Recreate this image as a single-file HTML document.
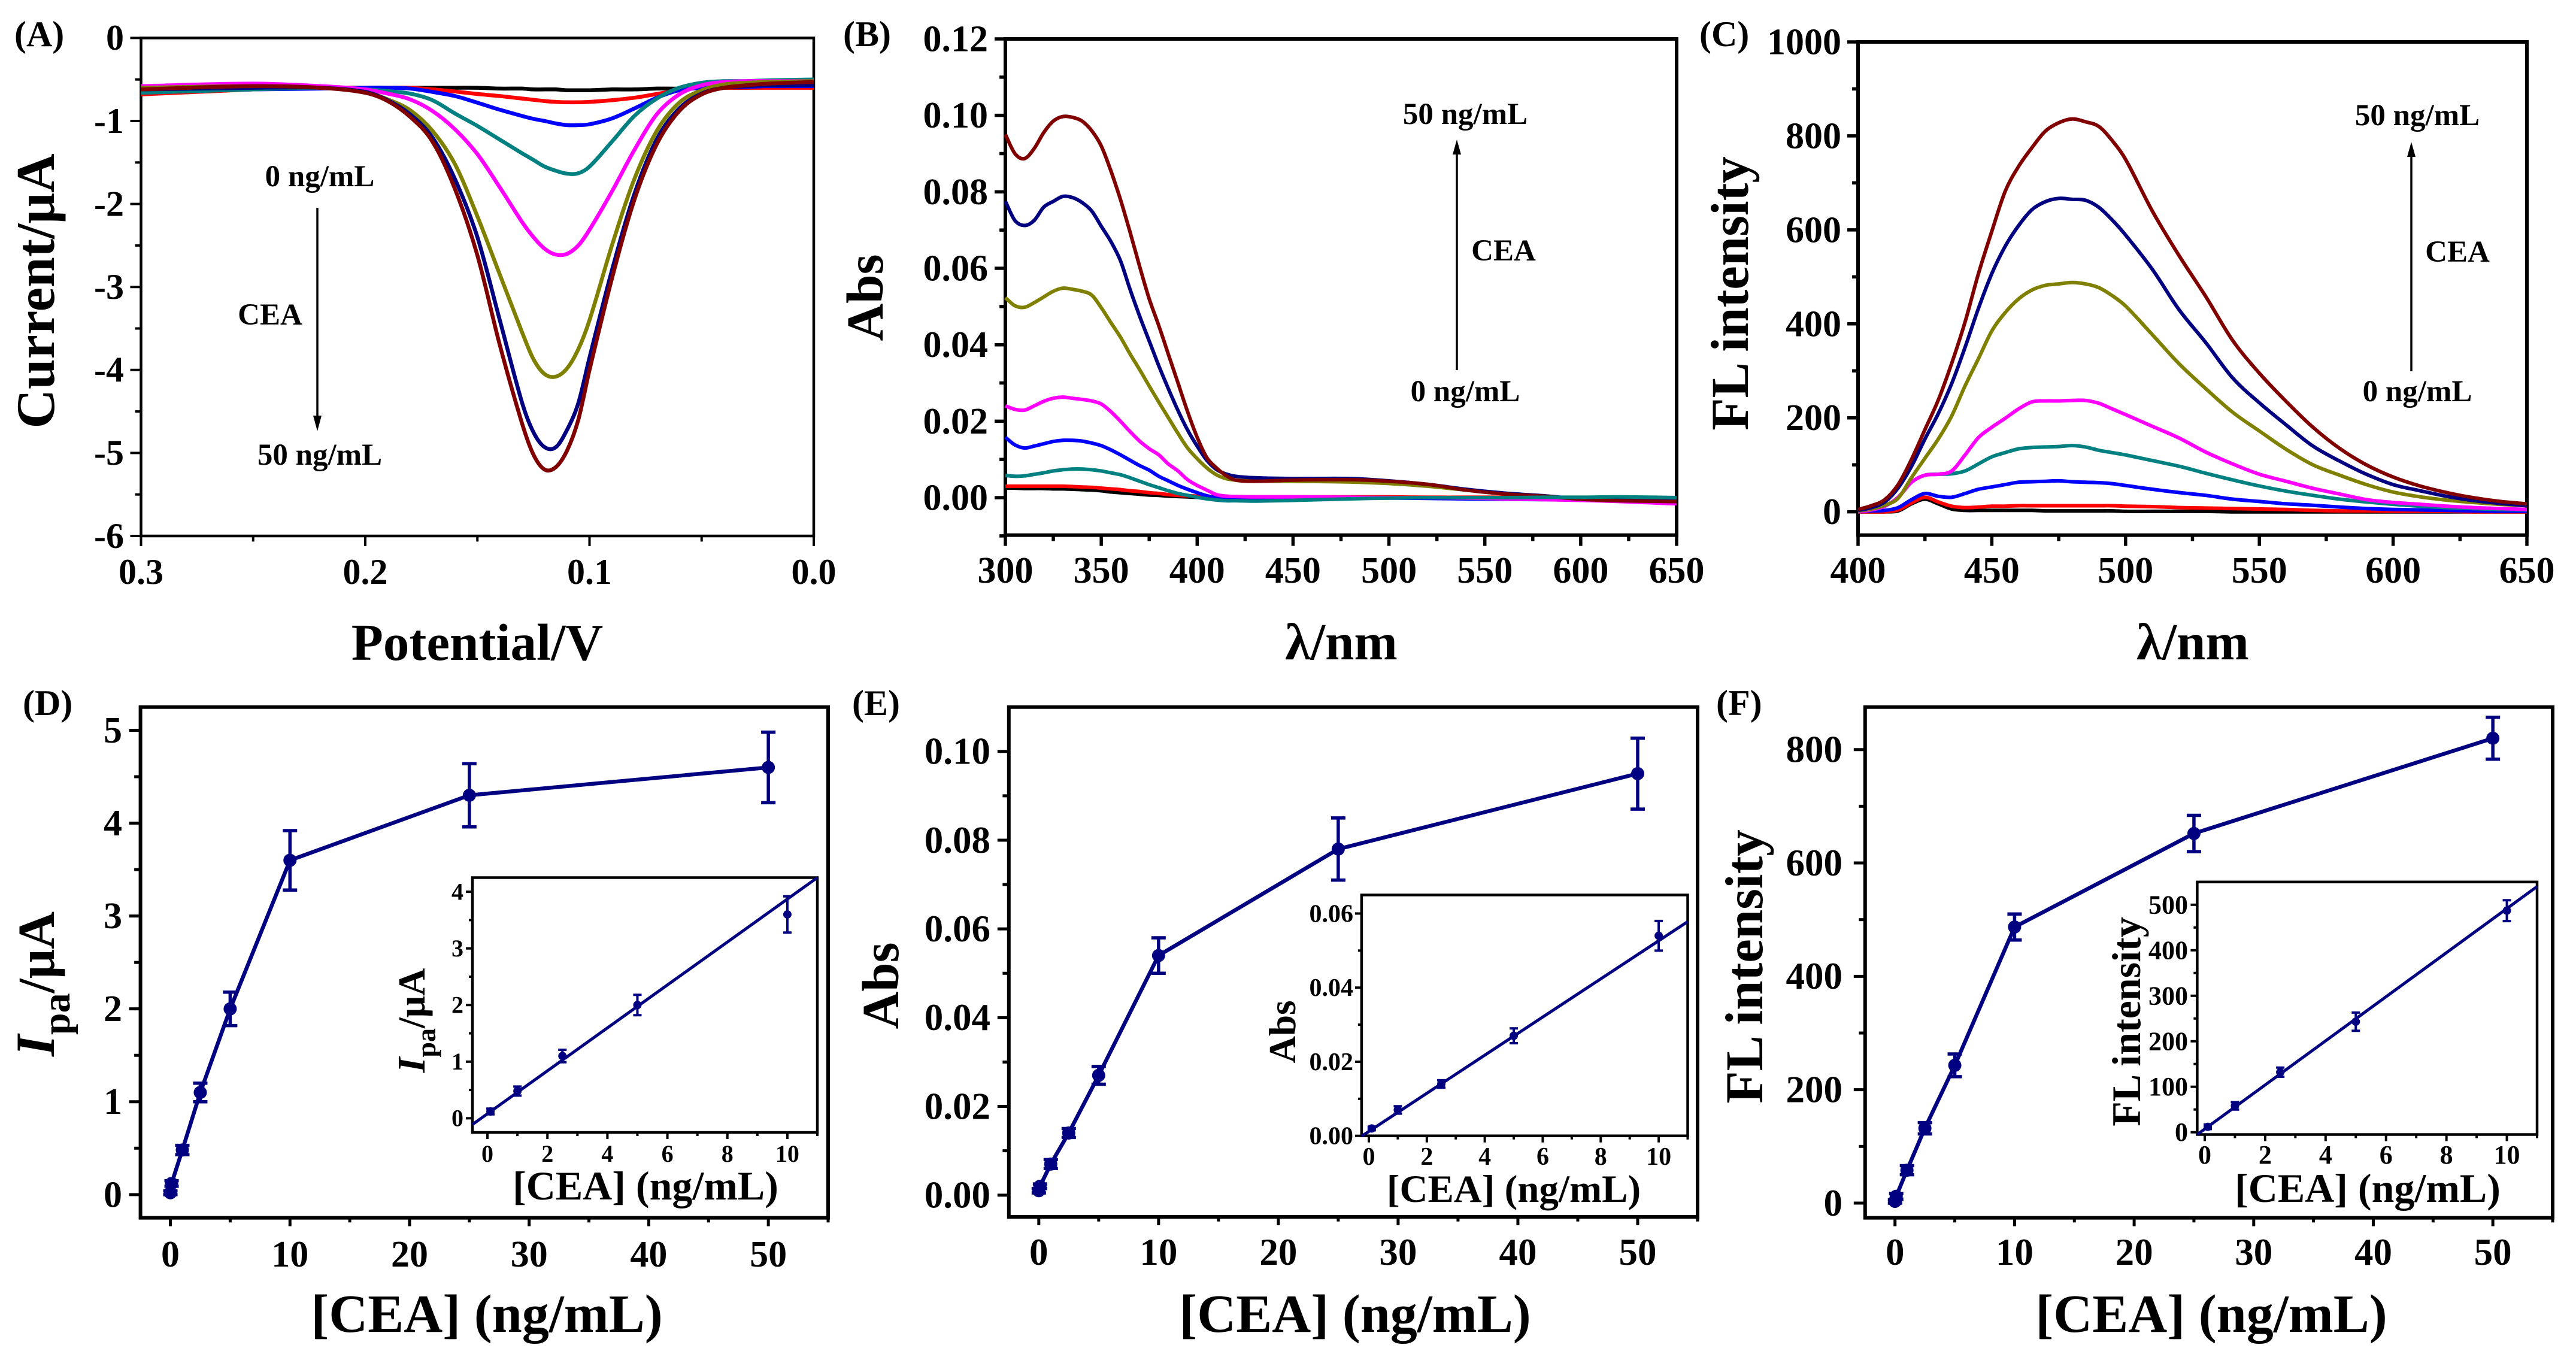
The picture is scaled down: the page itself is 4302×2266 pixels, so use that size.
<!DOCTYPE html>
<html lang="en">
<head>
<meta charset="utf-8">
<title>CEA sensing response panels</title>
<style>
html,body{margin:0;padding:0;background:#fff;}
svg{display:block;}
text{font-family:"Liberation Serif",serif;font-weight:bold;fill:#000;}
</style>
</head>
<body>
<svg id="figure" xmlns="http://www.w3.org/2000/svg" width="4302" height="2266" viewBox="0 0 4302 2266">
<rect x="0" y="0" width="4302" height="2266" fill="#fff"/>
<g id="marks"></g>

<g font-size="60">
<text x="24" y="77">(A)</text>
<text x="1408" y="77">(B)</text>
<text x="2838" y="77">(C)</text>
<text x="38" y="1194">(D)</text>
<text x="1423" y="1194">(E)</text>
<text x="2866" y="1194">(F)</text>
</g>

<g font-size="89" text-anchor="middle">
<text font-size="87" x="797" y="1102">Potential/V</text>
<text font-size="91" transform="translate(90 486) rotate(-90)">Current/μA</text>
<text font-size="87" x="2240" y="1101">λ/nm</text>
<text font-size="87" transform="translate(1474 497) rotate(-90)">Abs</text>
<text font-size="87" x="3662" y="1101">λ/nm</text>
<text transform="translate(2919 490) rotate(-90)">FL intensity</text>
<text font-size="90" x="813" y="2224">[CEA] (ng/mL)</text>
<text font-size="87" transform="translate(90 1643) rotate(-90)"><tspan font-style="italic" font-size="92">I</tspan><tspan font-size="66" dy="26">pa</tspan><tspan dy="-26">/μA</tspan></text>
<text font-size="90" x="2263" y="2224">[CEA] (ng/mL)</text>
<text font-size="87" transform="translate(1500 1646) rotate(-90)">Abs</text>
<text font-size="90" x="3693" y="2224">[CEA] (ng/mL)</text>
<text transform="translate(2943 1614) rotate(-90)">FL intensity</text>
</g>

<g text-anchor="middle">
<text font-size="68" x="1078" y="2003">[CEA] (ng/mL)</text>
<text font-size="64" transform="translate(709 1704) rotate(-90)"><tspan font-style="italic" font-size="66">I</tspan><tspan font-size="46" dy="18">pa</tspan><tspan dy="-18">/μA</tspan></text>
<text font-size="65" x="2528" y="2007">[CEA] (ng/mL)</text>
<text font-size="63" transform="translate(2163 1723) rotate(-90)">Abs</text>
<text font-size="68" x="3954" y="2007">[CEA] (ng/mL)</text>
<text font-size="68" transform="translate(3574 1706) rotate(-90)">FL intensity</text>
</g>

<g font-size="51" text-anchor="middle">
<text x="534" y="311">0 ng/mL</text>
<text x="451" y="542">CEA</text>
<text x="534" y="776">50 ng/mL</text>
<line x1="530" y1="347" x2="530" y2="700" stroke="#000" stroke-width="3.5"/>
<polygon points="523,694 537,694 530,720" fill="#000"/>

<text x="2447" y="207">50 ng/mL</text>
<text x="2511" y="435">CEA</text>
<text x="2447" y="670">0 ng/mL</text>
<line x1="2433" y1="618" x2="2433" y2="250" stroke="#000" stroke-width="3.5"/>
<polygon points="2426,258 2440,258 2433,233" fill="#000"/>

<text x="4037" y="209">50 ng/mL</text>
<text x="4104" y="437">CEA</text>
<text x="4037" y="670">0 ng/mL</text>
<line x1="4027" y1="620" x2="4027" y2="250" stroke="#000" stroke-width="3.5"/>
<polygon points="4020,262 4034,262 4027,237" fill="#000"/>
</g>
</svg>

<script>
// ---------- Panel A: potential sweep ----------
var potentialV = [0.30,0.25,0.22,0.20,0.19,0.18,0.17,0.16,0.15,0.14,0.13,0.125,0.12,0.115,0.11,0.105,0.10,0.09,0.08,0.07,0.06,0.05,0.04,0.03,0.02,0];
var currentBlack = [-0.62,-0.61,-0.6,-0.6,-0.6,-0.6,-0.6,-0.6,-0.6,-0.61,-0.61,-0.62,-0.62,-0.62,-0.63,-0.63,-0.63,-0.62,-0.62,-0.61,-0.61,-0.6,-0.6,-0.6,-0.59,-0.58];
var currentRed = [-0.68,-0.62,-0.6,-0.6,-0.6,-0.6,-0.62,-0.645,-0.675,-0.7,-0.73,-0.745,-0.76,-0.77,-0.775,-0.775,-0.77,-0.75,-0.72,-0.675,-0.63,-0.6,-0.6,-0.6,-0.6,-0.6];
var currentBlue = [-0.65,-0.62,-0.61,-0.6,-0.6,-0.61,-0.65,-0.7,-0.78,-0.865,-0.94,-0.975,-1.0,-1.03,-1.05,-1.05,-1.04,-0.97,-0.85,-0.72,-0.63,-0.6,-0.59,-0.59,-0.58,-0.58];
var currentTeal = [-0.66,-0.62,-0.6,-0.62,-0.64,-0.67,-0.75,-0.91,-1.06,-1.225,-1.39,-1.47,-1.55,-1.6,-1.635,-1.63,-1.55,-1.25,-0.94,-0.73,-0.6,-0.54,-0.52,-0.52,-0.51,-0.5];
var currentMagenta = [-0.58,-0.55,-0.58,-0.62,-0.67,-0.74,-0.88,-1.1,-1.4,-1.8,-2.22,-2.4,-2.54,-2.61,-2.6,-2.5,-2.31,-1.85,-1.35,-0.92,-0.68,-0.57,-0.53,-0.52,-0.52,-0.52];
var currentOlive = [-0.6,-0.58,-0.6,-0.65,-0.74,-0.87,-1.12,-1.52,-2.15,-2.85,-3.55,-3.87,-4.05,-4.08,-3.98,-3.75,-3.4,-2.5,-1.7,-1.12,-0.78,-0.63,-0.56,-0.54,-0.53,-0.52];
var currentNavy = [-0.62,-0.6,-0.6,-0.65,-0.75,-0.92,-1.2,-1.7,-2.4,-3.4,-4.4,-4.75,-4.93,-4.93,-4.72,-4.4,-3.85,-2.8,-1.88,-1.22,-0.85,-0.67,-0.6,-0.58,-0.57,-0.57];
var currentMaroon = [-0.62,-0.58,-0.6,-0.66,-0.76,-0.95,-1.25,-1.82,-2.62,-3.7,-4.65,-5.02,-5.2,-5.17,-4.97,-4.6,-4.0,-2.9,-1.95,-1.28,-0.88,-0.68,-0.6,-0.57,-0.55,-0.53];

// ---------- Panel B: absorbance spectra ----------
var absWavelength = [300,305,310,315,320,325,330,335,340,345,350,355,360,365,370,375,380,385,390,395,400,405,410,415,420,430,450,480,500,520,540,560,580,600,620,650];
var absBlack = [.0025,.0025,.0024,.0024,.0024,.0023,.0023,.0022,.0021,.002,.0018,.0015,.0013,.0011,.0009,.0007,.0006,.0004,.0003,.0002,.0001,.0001,0,0,0,0,0,0,0,0,0,0,0,0,0,0];
var absRed = [.003,.003,.003,.003,.003,.003,.003,.0029,.0028,.0027,.0025,.0023,.0021,.0018,.0016,.0013,.0011,.0008,.0006,.0005,.0004,.0003,.0003,.0002,.0002,.0002,.0002,.0002,.0002,.0001,.0001,.0001,.0001,0,0,0];
var absTeal = [.0058,.0056,.0057,.0061,.0065,.007,.0073,.0075,.0075,.0073,.007,.0065,.006,.0052,.0043,.0034,.0026,.0018,.0011,.0006,.0001,-.0003,-.0006,-.0008,-.0008,-.0009,-.0007,-.0003,-.0001,0,0,0,.0001,.0001,.0002,0];
var absBlue = [.0158,.0138,.013,.0135,.0141,.0147,.015,.015,.0148,.0143,.0136,.0125,.0112,.0098,.0084,.0072,.0056,.0044,.0032,.0022,.0013,.0005,0,-.0003,-.0005,-.0007,-.0006,-.0002,-.0001,-.0002,-.0003,-.0004,-.0005,-.0005,-.0005,-.0007];
var absMagenta = [.024,.0231,.0229,.024,.0252,.026,.0263,.026,.0257,.0253,.0245,.0225,.02,.0173,.0148,.0128,.0112,.0088,.007,.0047,.0032,.002,.0008,.0004,.0003,.0002,.0002,.0001,0,0,-.0001,-.0003,-.0005,-.0007,-.001,-.0016];
var absOlive = [.0523,.0502,.0498,.051,.0525,.054,.0548,.0545,.054,.053,.0497,.0458,.042,.0376,.0335,.0292,.025,.0209,.0168,.013,.0102,.0078,.006,.005,.0046,.0044,.0043,.0041,.0037,.003,.002,.001,.0004,-.0003,-.0007,-.001];
var absNavy = [.0775,.0725,.0712,.0725,.076,.0775,.0788,.0785,.0772,.075,.071,.067,.062,.0545,.0475,.041,.0345,.0285,.0228,.0177,.0135,.0098,.0074,.0062,.0056,.0052,.005,.005,.0044,.0035,.0022,.0012,.0005,-.0003,-.0006,-.001];
var absMaroon = [.095,.09,.0887,.0913,.0955,.0985,.0997,.0995,.0985,.096,.092,.0855,.078,.0695,.0605,.052,.045,.0375,.03,.0225,.0158,.0105,.0078,.0058,.0046,.0043,.0046,.0047,.0043,.0035,.002,.001,.0004,-.0004,-.0008,-.001];

// ---------- Panel C: fluorescence spectra ----------
var flWavelength = [400,405,410,415,420,425,430,435,440,445,450,455,460,465,470,475,480,485,490,495,500,510,520,530,540,550,560,570,580,590,600,610,620,630,640,650];
var flBlack = [0,0,0,2,17,27,17,6,3,3,3,3,3,3,2,2,2,2,2,2,1,1,1,1,0,0,0,0,0,0,0,0,0,0,0,0];
var flRed = [0,0,0,4,19,31,21,12,9,10,12,12,13,13,13,13,13,13,13,13,12,11,9,8,7,6,5,3,2,2,1,1,1,0,0,0];
var flBlue = [0,2,3,9,26,39,33,31,39,48,53,58,63,64,65,66,64,63,62,60,56,48,41,35,27,22,17,14,10,7,5,4,3,2,1,1];
var flTeal = [0,4,12,31,63,78,80,81,87,102,117,126,134,137,138,139,141,138,131,126,121,109,97,82,68,55,44,35,27,21,16,12,9,7,5,4];
var flMagenta = [0,4,12,31,63,78,80,87,121,158,180,199,219,234,236,236,237,237,231,219,207,182,157,127,102,80,65,50,38,26,20,16,12,9,7,5];
var flOlive = [2,6,14,29,73,114,155,204,268,326,385,424,453,472,482,485,488,485,477,460,438,377,315,262,212,172,133,100,78,58,42,32,25,20,16,13];
var flNavy = [3,9,21,51,97,155,209,273,350,433,507,565,609,643,660,667,665,663,648,621,589,516,430,360,285,232,185,140,108,80,58,45,33,24,18,13];
var flMaroon = [5,13,26,58,112,175,238,316,404,507,597,682,735,775,810,828,836,830,820,790,750,640,545,458,365,295,235,180,135,100,74,55,41,30,22,17];

// ---------- Panels D, E, F: calibration ----------
var concentration = [0,0.1,1,2.5,5,10,25,50];
var ipaValues = [0.02,0.12,0.48,1.1,2.0,3.6,4.3,4.6];
var ipaErrors = [0.02,0.03,0.05,0.1,0.18,0.32,0.34,0.38];
var calAbsValues = [0.001,0.002,0.007,0.014,0.027,0.054,0.078,0.095];
var calAbsErrors = [0.0005,0.0005,0.001,0.001,0.002,0.004,0.007,0.008];
var calFlValues = [3,12,58,132,243,487,652,820];
var calFlErrors = [3,5,8,10,20,23,32,37];

var insetConcentration = [0.1,1,2.5,5,10];
var insetIpaValues = [0.12,0.48,1.1,2.0,3.6];
var insetIpaErrors = [0.05,0.08,0.11,0.18,0.32];
var insetAbsValues = [0.002,0.007,0.014,0.027,0.054];
var insetAbsErrors = [0.0005,0.001,0.001,0.002,0.004];
var insetFlValues = [12,58,132,243,487];
var insetFlErrors = [5,8,10,20,23];

var fitIpaX = [-0.5,11];
var fitIpaY = [-0.11,4.25];
var fitAbsX = [-0.25,11];
var fitAbsY = [-0.0001,0.0578];
var fitFlX = [-0.25,11];
var fitFlY = [-5,540];

// ---------- Tick labels ----------
var aXTicks = [0.3,0.2,0.1,0.0];
var aXLabels = ['0.3','0.2','0.1','0.0'];
var aXMinor = [0.25,0.15,0.05];
var aYTicks = [0,-1,-2,-3,-4,-5,-6];
var aYLabels = ['0','-1','-2','-3','-4','-5','-6'];
var aYMinor = [-0.5,-1.5,-2.5,-3.5,-4.5,-5.5];

var bXTicks = [300,350,400,450,500,550,600,650];
var bXLabels = ['300','350','400','450','500','550','600','650'];
var bXMinor = [325,375,425,475,525,575,625];
var bYTicks = [0,0.02,0.04,0.06,0.08,0.10,0.12];
var bYLabels = ['0.00','0.02','0.04','0.06','0.08','0.10','0.12'];
var bYMinor = [-0.01,0.01,0.03,0.05,0.07,0.09,0.11];

var cXTicks = [400,450,500,550,600,650];
var cXLabels = ['400','450','500','550','600','650'];
var cXMinor = [425,475,525,575,625];
var cYTicks = [0,200,400,600,800,1000];
var cYLabels = ['0','200','400','600','800','1000'];
var cYMinor = [100,300,500,700,900];

var calXTicks = [0,10,20,30,40,50];
var calXLabels = ['0','10','20','30','40','50'];
var calXMinor = [5,15,25,35,45,55];

var dYTicks = [0,1,2,3,4,5];
var dYLabels = ['0','1','2','3','4','5'];
var dYMinor = [0.5,1.5,2.5,3.5,4.5];
var eYTicks = [0,0.02,0.04,0.06,0.08,0.10];
var eYLabels = ['0.00','0.02','0.04','0.06','0.08','0.10'];
var eYMinor = [0.01,0.03,0.05,0.07,0.09];
var fYTicks = [0,200,400,600,800];
var fYLabels = ['0','200','400','600','800'];
var fYMinor = [100,300,500,700];

var insetXTicks = [0,2,4,6,8,10];
var insetXLabels = ['0','2','4','6','8','10'];
var insetXMinor = [1,3,5,7,9,11];
var dInsetYTicks = [0,1,2,3,4];
var dInsetYLabels = ['0','1','2','3','4'];
var dInsetYMinor = [0.5,1.5,2.5,3.5];
var eInsetYTicks = [0,0.02,0.04,0.06];
var eInsetYLabels = ['0.00','0.02','0.04','0.06'];
var eInsetYMinor = [0.01,0.03,0.05];
var fInsetYTicks = [0,100,200,300,400,500];
var fInsetYLabels = ['0','100','200','300','400','500'];
var fInsetYMinor = [50,150,250,350,450];

var NS = 'http://www.w3.org/2000/svg';
var root = document.getElementById('marks');

function make(tag, parent, attrs) {
  var el = document.createElementNS(NS, tag);
  for (var k in attrs) { el.setAttribute(k, attrs[k]); }
  parent.appendChild(el);
  return el;
}

function scaleFn(d0, d1, r0, r1) {
  return function (v) { return r0 + (v - d0) / (d1 - d0) * (r1 - r0); };
}

function drawAxes(p) {
  var g = make('g', root, {});
  
  
  var sx = scaleFn(p.xDomain[0], p.xDomain[1], p.L, p.R);
  var sy = scaleFn(p.yDomain[0], p.yDomain[1], p.B, p.T);
  var frame = make('rect', g, {x: p.L, y: p.T, width: p.R - p.L, height: p.B - p.T, fill: '#fff', stroke: '#000', 'stroke-width': p.frameW});
  
  
  p.xTicks.forEach(function (v, i) {
    var t = make('line', g, {x1: sx(v), x2: sx(v), y1: p.B, y2: p.B + p.xMajor, stroke: '#000', 'stroke-width': p.tickW});
    
    
    var lab = make('text', g, {x: sx(v), y: p.xLabelY, 'font-size': p.tickFont, 'text-anchor': 'middle'});
    lab.textContent = p.xLabels[i];
    
    
  });
  p.xMinor.forEach(function (v) {
    var t = make('line', g, {x1: sx(v), x2: sx(v), y1: p.B, y2: p.B + p.xMajor * 0.55, stroke: '#000', 'stroke-width': p.tickW});
    
    
  });
  p.yTicks.forEach(function (v, i) {
    var t = make('line', g, {x1: p.L - p.yMajor, x2: p.L, y1: sy(v), y2: sy(v), stroke: '#000', 'stroke-width': p.tickW});
    
    
    var lab = make('text', g, {x: p.yLabelX, y: sy(v) + p.tickFont * 0.33, 'font-size': p.tickFont, 'text-anchor': 'end'});
    lab.textContent = p.yLabels[i];
    
    
  });
  p.yMinor.forEach(function (v) {
    var t = make('line', g, {x1: p.L - p.yMajor * 0.55, x2: p.L, y1: sy(v), y2: sy(v), stroke: '#000', 'stroke-width': p.tickW});
    
    
  });
  return {x: sx, y: sy, g: g};
}

function smoothPath(pts) {
  var d = 'M' + pts[0][0].toFixed(1) + ' ' + pts[0][1].toFixed(1);
  for (var i = 0; i < pts.length - 1; i++) {
    var p0 = pts[Math.max(i - 1, 0)], p1 = pts[i], p2 = pts[i + 1], p3 = pts[Math.min(i + 2, pts.length - 1)];
    var k = (p2[0] - p1[0]) / 3;
    var dx1 = p2[0] - p0[0] || 1, dx2 = p3[0] - p1[0] || 1;
    var c1y = p1[1] + (p2[1] - p0[1]) / dx1 * k;
    var c2y = p2[1] - (p3[1] - p1[1]) / dx2 * k;
    d += 'C' + (p1[0] + k).toFixed(1) + ' ' + c1y.toFixed(1) + ' ' + (p2[0] - k).toFixed(1) + ' ' + c2y.toFixed(1) + ' ' + p2[0].toFixed(1) + ' ' + p2[1].toFixed(1);
  }
  return d;
}

function drawCurve(ax, id, xs, ys, color, width) {
  var pts = xs.map(function (x, i) { return [ax.x(x), ax.y(ys[i])]; });
  var path = make('path', ax.g, {d: smoothPath(pts), fill: 'none', stroke: color, 'stroke-width': width, 'stroke-linejoin': 'round'});
  
  
}

function drawCalibration(ax, id, xs, ys, errs, opts) {
  var navy = '#000080';
  if (opts.fitX) {
    var fit = make('line', ax.g, {x1: ax.x(opts.fitX[0]), y1: ax.y(opts.fitY[0]), x2: ax.x(opts.fitX[1]), y2: ax.y(opts.fitY[1]), stroke: navy, 'stroke-width': opts.lineW});
    
    
  } else {
    var pts = xs.map(function (x, i) { return ax.x(x).toFixed(1) + ',' + ax.y(ys[i]).toFixed(1); }).join(' ');
    var line = make('polyline', ax.g, {points: pts, fill: 'none', stroke: navy, 'stroke-width': opts.lineW, 'stroke-linejoin': 'round'});
    
    
  }
  xs.forEach(function (x, i) {
    var px = ax.x(x), top = ax.y(ys[i] + errs[i]), bot = ax.y(ys[i] - errs[i]);
    var bar = make('path', ax.g, {d: 'M' + px + ' ' + top + 'V' + bot + 'M' + (px - opts.cap) + ' ' + top + 'H' + (px + opts.cap) + 'M' + (px - opts.cap) + ' ' + bot + 'H' + (px + opts.cap), fill: 'none', stroke: navy, 'stroke-width': opts.errW});
    
    
    var dot = make('circle', ax.g, {cx: px, cy: ax.y(ys[i]), r: opts.r, fill: navy});
    
    
  });
}

var axA = drawAxes({id: 'a', L: 235.5, R: 1359, T: 63.4, B: 895, xDomain: [0.3, 0], yDomain: [-6, 0], frameW: 4.5, tickW: 4, xMajor: 17, yMajor: 18, tickFont: 60, xLabelY: 975, yLabelX: 207, xTicks: aXTicks, xLabels: aXLabels, xMinor: aXMinor, yTicks: aYTicks, yLabels: aYLabels, yMinor: aYMinor});
var axB = drawAxes({id: 'b', L: 1679, R: 2800, T: 65, B: 893.6, xDomain: [300, 650], yDomain: [-0.0098, 0.12], frameW: 6, tickW: 5.5, xMajor: 18, yMajor: 18, tickFont: 62, xLabelY: 973, yLabelX: 1650, xTicks: bXTicks, xLabels: bXLabels, xMinor: bXMinor, yTicks: bYTicks, yLabels: bYLabels, yMinor: bYMinor});
var axC = drawAxes({id: 'c', L: 3103, R: 4220, T: 70, B: 893.6, xDomain: [400, 650], yDomain: [-49.6, 1000], frameW: 6, tickW: 5.5, xMajor: 18, yMajor: 18, tickFont: 62, xLabelY: 973, yLabelX: 3075, xTicks: cXTicks, xLabels: cXLabels, xMinor: cXMinor, yTicks: cYTicks, yLabels: cYLabels, yMinor: cYMinor});
var axD = drawAxes({id: 'd', L: 234.6, R: 1383, T: 1180.7, B: 2033.6, xDomain: [-2.5, 55], yDomain: [-0.25, 5.25], frameW: 6, tickW: 5, xMajor: 14, yMajor: 19, tickFont: 62, xLabelY: 2115, yLabelX: 204, xTicks: calXTicks, xLabels: calXLabels, xMinor: calXMinor, yTicks: dYTicks, yLabels: dYLabels, yMinor: dYMinor});
var axE = drawAxes({id: 'e', L: 1684.8, R: 2835, T: 1180.7, B: 2032, xDomain: [-2.5, 55], yDomain: [-0.0049, 0.11], frameW: 6, tickW: 5, xMajor: 14, yMajor: 19, tickFont: 63, xLabelY: 2112, yLabelX: 1654, xTicks: calXTicks, xLabels: calXLabels, xMinor: calXMinor, yTicks: eYTicks, yLabels: eYLabels, yMinor: eYMinor});
var axF = drawAxes({id: 'f', L: 3114.8, R: 4263, T: 1180.7, B: 2033.6, xDomain: [-2.5, 55], yDomain: [-26, 875], frameW: 6, tickW: 5, xMajor: 14, yMajor: 19, tickFont: 63, xLabelY: 2112, yLabelX: 3077, xTicks: calXTicks, xLabels: calXLabels, xMinor: calXMinor, yTicks: fYTicks, yLabels: fYLabels, yMinor: fYMinor});

var seriesColors = ['#000000', '#ff0000', '#0000ff', '#008080', '#ff00ff', '#808000', '#000080', '#800000'];
var seriesNames = ['0-ng', 'level-2', 'level-3', 'level-4', 'level-5', 'level-6', 'level-7', '50-ng'];

[currentBlack, currentRed, currentBlue, currentTeal, currentMagenta, currentOlive, currentNavy, currentMaroon].forEach(function (ys, i) {
  drawCurve(axA, 'a-curve-' + seriesNames[i], potentialV, ys, seriesColors[i], 6.5);
});
[absBlack, absRed, absBlue, absMagenta, absOlive, absNavy, absMaroon, absTeal].forEach(function (ys, i) {
  var order = [0, 1, 2, 4, 5, 6, 7, 3][i];
  drawCurve(axB, 'b-curve-' + seriesNames[order], absWavelength, ys, seriesColors[order], 6);
});
[flBlack, flRed, flBlue, flTeal, flMagenta, flOlive, flNavy, flMaroon].forEach(function (ys, i) {
  drawCurve(axC, 'c-curve-' + seriesNames[i], flWavelength, ys, seriesColors[i], 6);
});

var mainStyle = {lineW: 6.5, errW: 5.5, cap: 12, r: 11};
drawCalibration(axD, 'd-calibration', concentration, ipaValues, ipaErrors, mainStyle);
drawCalibration(axE, 'e-calibration', concentration, calAbsValues, calAbsErrors, mainStyle);
drawCalibration(axF, 'f-calibration', concentration, calFlValues, calFlErrors, mainStyle);

var axDI = drawAxes({id: 'd-inset', L: 789, R: 1365, T: 1465.5, B: 1891, xDomain: [-0.5, 11], yDomain: [-0.25, 4.25], frameW: 4.5, tickW: 4, xMajor: 11, yMajor: 11, tickFont: 40, xLabelY: 1940, yLabelX: 774, xTicks: insetXTicks, xLabels: insetXLabels, xMinor: insetXMinor, yTicks: dInsetYTicks, yLabels: dInsetYLabels, yMinor: dInsetYMinor});
var axEI = drawAxes({id: 'e-inset', L: 2273.9, R: 2818.5, T: 1494.5, B: 1896.7, xDomain: [-0.25, 11], yDomain: [0, 0.065], frameW: 4.5, tickW: 4, xMajor: 11, yMajor: 11, tickFont: 42, xLabelY: 1945, yLabelX: 2260, xTicks: insetXTicks, xLabels: insetXLabels, xMinor: insetXMinor, yTicks: eInsetYTicks, yLabels: eInsetYLabels, yMinor: eInsetYMinor});
var axFI = drawAxes({id: 'f-inset', L: 3669.4, R: 4237, T: 1472.8, B: 1894.5, xDomain: [-0.25, 11], yDomain: [-5, 550], frameW: 4.5, tickW: 4, xMajor: 11, yMajor: 11, tickFont: 44, xLabelY: 1943, yLabelX: 3654, xTicks: insetXTicks, xLabels: insetXLabels, xMinor: insetXMinor, yTicks: fInsetYTicks, yLabels: fInsetYLabels, yMinor: fInsetYMinor});

var insetStyleD = {lineW: 5, errW: 4, cap: 7, r: 7, fitX: fitIpaX, fitY: fitIpaY};
var insetStyleE = {lineW: 5, errW: 4, cap: 7, r: 7, fitX: fitAbsX, fitY: fitAbsY};
var insetStyleF = {lineW: 5, errW: 4, cap: 7, r: 7, fitX: fitFlX, fitY: fitFlY};
drawCalibration(axDI, 'd-inset', insetConcentration, insetIpaValues, insetIpaErrors, insetStyleD);
drawCalibration(axEI, 'e-inset', insetConcentration, insetAbsValues, insetAbsErrors, insetStyleE);
drawCalibration(axFI, 'f-inset', insetConcentration, insetFlValues, insetFlErrors, insetStyleF);
</script>
</body>
</html>
